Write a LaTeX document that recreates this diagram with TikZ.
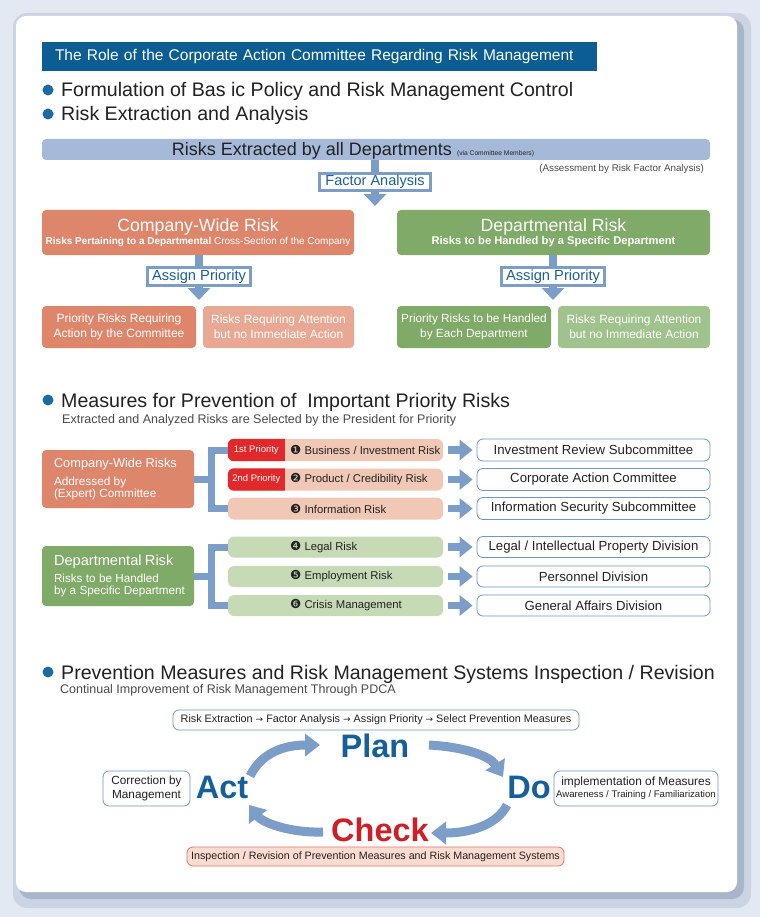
\documentclass[tikz,border=0pt]{standalone}
\usepackage{fontspec}
\setmainfont{Liberation Sans}
\newfontfamily\dejavu{DejaVu Sans}
\usetikzlibrary{arrows.meta}
\newcommand{\myfs}[2]{\fontsize{#1}{#2}\selectfont}
\definecolor{bgc}{HTML}{E2E9F3}
\definecolor{shcA}{HTML}{CBD4E3}
\definecolor{shcB}{HTML}{A9B5CA}
\definecolor{titleblue}{HTML}{0B5D92}
\definecolor{bulc}{HTML}{1B6AA5}
\definecolor{barc}{HTML}{A5B9D8}
\definecolor{arrc}{HTML}{7B9DC7}
\definecolor{txtblue}{HTML}{1D5F99}
\definecolor{salmon}{HTML}{DD866C}
\definecolor{salmonlt}{HTML}{E8A893}
\definecolor{green}{HTML}{80AA68}
\definecolor{greenlt}{HTML}{A0C28D}
\definecolor{palesal}{HTML}{F0C8B5}
\definecolor{palegrn}{HTML}{C6DAB6}
\definecolor{tagred}{HTML}{E1282A}
\definecolor{checkred}{HTML}{CF1E25}
\definecolor{pinkbox}{HTML}{FCDCD2}
\definecolor{pinkline}{HTML}{E0766A}
\definecolor{boxblue}{HTML}{6B98C9}
\definecolor{txtdark}{HTML}{222222}
\definecolor{txtgray}{HTML}{4A4A4A}
\definecolor{pdcablue}{HTML}{155F9A}
\begin{document}
\begin{tikzpicture}[x=1pt,y=-1pt,
  box/.style={rounded corners=4pt, inner sep=0pt, align=center, text=white},
  stem/.style={draw=arrc, line width=8pt},
  headarrow/.style={draw=arrc, line width=8pt, -{Triangle[width=22pt,length=12pt]}},
  sidearrow/.style={draw=arrc, line width=7.5pt, -{Triangle[width=20pt,length=13pt]}, shorten <=5pt, shorten >=4pt},
  cyc/.style={draw=arrc, line width=9pt, -{Triangle[width=22pt,length=15pt]}},
  prio/.style={draw=arrc, line width=3pt, fill=white, minimum width=103pt, minimum height=18pt, inner sep=0pt, text=txtblue, font=\myfs{14.7}{16}},
  brk/.style={draw=arrc, line width=7pt, line join=miter},
  row/.style={fill=#1, rounded corners=6pt, minimum width=215pt, minimum height=22pt, inner sep=0pt},
  rowtext/.style={anchor=west, inner sep=0pt, font=\myfs{11.3}{13}, text=txtdark},
  rb/.style={draw=boxblue, line width=0.8pt, rounded corners=6pt, fill=white, minimum width=233pt, minimum height=22pt, inner sep=0pt, font=\myfs{13.2}{15}, text=txtdark},
  tagtext/.style={inner sep=0pt, font=\myfs{9.5}{10}, text=white},
  head/.style={anchor=base west, inner sep=0pt, font=\myfs{19.6}{22}, text=txtdark},
  sub/.style={anchor=base west, inner sep=0pt, font=\myfs{12.5}{14}, text=txtgray},
  pdca/.style={inner sep=0pt, font=\myfs{32.5}{34}\bfseries, text=pdcablue},
  note/.style={draw=boxblue, line width=0.8pt, rounded corners=6pt, fill=white, inner sep=0pt, align=center, text=txtdark}
]
\useasboundingbox (0,0) rectangle (760,917);
\fill[bgc] (0,0) rectangle (760,917);
\fill[shcA, rounded corners=14pt] (13,13) rectangle (751,908);
\fill[shcB, rounded corners=12pt] (19,19) rectangle (744,899);
\fill[white, rounded corners=10pt] (16,16) rectangle (737,892);

% title
\node[fill=titleblue, minimum width=555pt, minimum height=29pt, inner xsep=13pt, text width=529pt, align=left, text=white, font=\myfs{15.5}{18}] (title) at (319.5,56.5) {The Role of the Corporate Action Committee Regarding Risk Management};

% headings
\fill[bulc] (48,90) circle (5.5pt);
\node[head] (h1) at (61,97) {Formulation of Bas ic Policy and Risk Management Control};
\fill[bulc] (48,114) circle (5.5pt);
\node[head] (h2) at (61,121) {Risk Extraction and Analysis};

% extraction bar
\node[rounded corners=4pt, fill=barc, minimum width=668pt, minimum height=21pt, inner sep=0pt] (rbar) at (376,149.5) {};
\node[anchor=base, inner sep=0pt, text=txtdark] (rbart) at (353,156) {{\myfs{18}{20}Risks Extracted by all Departments}\hspace{5pt}{\myfs{6.7}{8}(via Committee Members)}};
\node[anchor=base east, inner sep=0pt, font=\myfs{9.8}{11}, text=txtgray] (assess) at (704,172) {(Assessment by Risk Factor Analysis)};

\node[draw=arrc, line width=3pt, fill=white, minimum width=111pt, minimum height=17pt, inner sep=0pt, text=txtblue, font=\myfs{14.5}{16}] (fa) at (375,182) {Factor Analysis};
\coordinate (fatip) at (375,206);
\draw[stem] (rbar.south -| fa.north) -- (fa.north);
\draw[headarrow] (fa.south) -- (fatip);

% company-wide / departmental
\node[box, fill=salmon, minimum width=312pt, minimum height=45pt] (cw) at (198,232.5) {{\myfs{17.7}{20}Company-Wide Risk}\\[1pt]{\myfs{10}{12}\bfseries Risks Pertaining to a Departmental}{\myfs{10}{12} Cross-Section of the Company}};
\node[box, fill=green, minimum width=313pt, minimum height=45pt] (dr) at (553.5,232.5) {{\myfs{17.7}{20}Departmental Risk}\\[1pt]{\myfs{11.2}{12}\bfseries Risks to be Handled by a Specific Department}};

\node[prio] (apl) at (199,276.5) {Assign Priority};
\node[prio] (apr) at (553,276.5) {Assign Priority};
\coordinate (apltip) at (199,300);
\coordinate (aprtip) at (553,300);
\draw[stem] (cw.south -| apl.north) -- (apl.north);
\draw[headarrow] (apl.south) -- (apltip);
\draw[stem] (dr.south -| apr.north) -- (apr.north);
\draw[headarrow] (apr.south) -- (aprtip);

\node[box, fill=salmon, minimum width=154pt, minimum height=42pt, font=\myfs{12}{15}] (b1) at (119,327) {Priority Risks Requiring\\Action by the Committee};
\node[box, fill=salmonlt, minimum width=151pt, minimum height=42pt, font=\myfs{12}{15}] (b2) at (278.5,327) {Risks Requiring Attention\\but no Immediate Action};
\node[box, fill=green, minimum width=154pt, minimum height=42pt, font=\myfs{11.8}{15}] (b3) at (474,327) {Priority Risks to be Handled\\by Each Department};
\node[box, fill=greenlt, minimum width=152pt, minimum height=42pt, font=\myfs{12}{15}] (b4) at (634,327) {Risks Requiring Attention\\but no Immediate Action};

% section 2
\fill[bulc] (48,400) circle (5.5pt);
\node[head] (h3) at (61,407) {Measures for Prevention of \ Important Priority Risks};
\node[sub] (s3) at (62,423) {Extracted and Analyzed Risks are Selected by the President for Priority};

\node[box, fill=salmon, minimum width=152pt, minimum height=58pt, text width=128pt, align=left] (cwr) at (118,479) {{\myfs{12.8}{15}Company-Wide Risks}\\[3pt]{\myfs{11.8}{14.5}Addressed by\\(Expert) Committee}};

\node[row=palesal] (r1) at (335.5,450) {};
\node[row=palesal] (r2) at (335.5,479.5) {};
\node[row=palesal] (r3) at (335.5,508.5) {};
\fill[tagred] ([xshift=57pt]r1.north west) [rounded corners=6pt] -- (r1.north west) -- (r1.south west) [sharp corners] -- ([xshift=57pt]r1.south west) -- cycle;
\fill[tagred] ([xshift=57pt]r2.north west) [rounded corners=6pt] -- (r2.north west) -- (r2.south west) [sharp corners] -- ([xshift=57pt]r2.south west) -- cycle;
\node[tagtext] (t1) at ([xshift=28.5pt]r1.west) {1st Priority};
\node[tagtext] (t2) at ([xshift=28.5pt]r2.west) {2nd Priority};
\node[rowtext] (l1) at (290,450) {{\dejavu\myfs{12.5}{13}❶} Business / Investment Risk};
\node[rowtext] (l2) at (290,479.5) {{\dejavu\myfs{12.5}{13}❷} Product / Credibility Risk};
\node[rowtext] (l3) at (290,508.5) {{\dejavu\myfs{12.5}{13}❸} Information Risk};
\draw[brk] (r1.west) -- ++(-16,0) |- (r3.west);
\draw[brk] (cwr.east) -- ++(21,0);

\node[rb] (c1) at (593.5,450) {Investment Review Subcommittee};
\node[rb] (c2) at (593.5,479.5) {Corporate Action Committee};
\node[rb] (c3) at (593.5,508.5) {Information Security Subcommittee};
\draw[sidearrow] (r1) -- (c1);
\draw[sidearrow] (r2) -- (c2);
\draw[sidearrow] (r3) -- (c3);

\node[box, fill=green, minimum width=152pt, minimum height=60pt, text width=128pt, align=left] (drk) at (118,576) {{\myfs{14.6}{16}Departmental Risk}\\[2pt]{\myfs{11.7}{14.5}\mbox{Risks to be Handled}\\\mbox{by a Specific Department}}};
\node[row=palegrn, minimum height=21pt] (r4) at (335.5,547) {};
\node[row=palegrn, minimum height=21pt] (r5) at (335.5,576.5) {};
\node[row=palegrn, minimum height=21pt] (r6) at (335.5,605.5) {};
\node[rowtext] (l4) at (290,547) {{\dejavu\myfs{12.5}{13}❹} Legal Risk};
\node[rowtext] (l5) at (290,576.5) {{\dejavu\myfs{12.5}{13}❺} Employment Risk};
\node[rowtext] (l6) at (290,605.5) {{\dejavu\myfs{12.5}{13}❻} Crisis Management};
\draw[brk] (r4.west) -- ++(-16,0) |- (r6.west);
\draw[brk] (drk.east) -- ++(21,0);

\node[rb, minimum height=21pt] (c4) at (593.5,547) {Legal / Intellectual Property Division};
\node[rb, minimum height=21pt] (c5) at (593.5,576.5) {Personnel Division};
\node[rb, minimum height=21pt] (c6) at (593.5,605.5) {General Affairs Division};
\draw[sidearrow] (r4) -- (c4);
\draw[sidearrow] (r5) -- (c5);
\draw[sidearrow] (r6) -- (c6);

% section 3
\fill[bulc] (48,672) circle (5.5pt);
\node[head] (h4) at (61,679) {Prevention Measures and Risk Management Systems Inspection / Revision};
\node[sub] (s4) at (60,693) {Continual Improvement of Risk Management Through PDCA};

\node[note, minimum width=406pt, minimum height=20pt, font=\myfs{10.8}{12}] (pl) at (376,720) {Risk Extraction {\dejavu\myfs{9}{12}→} Factor Analysis {\dejavu\myfs{9}{12}→} Assign Priority {\dejavu\myfs{9}{12}→} Select Prevention Measures};

\node[pdca] (plan) at (375,746) {Plan};
\node[pdca] (act) at (222,787) {Act};
\node[pdca] (do) at (529,787) {Do};
\node[pdca, text=checkred] (check) at (380,830) {Check};

\coordinate (ap1) at (250,776);
\coordinate (ap2) at (320,745);
\coordinate (pd1) at (429,745);
\coordinate (pd2) at (503,777);
\coordinate (dc1) at (507,805);
\coordinate (dc2) at (431,833);
\coordinate (ca1) at (323,832);
\coordinate (ca2) at (249,805);
\draw[cyc] (ap1) .. controls (262,752) and (285,745) .. (ap2);
\draw[cyc] (pd1) .. controls (465,747) and (490,756) .. (pd2);
\draw[cyc] (dc1) .. controls (497,825) and (470,833) .. (dc2);
\draw[cyc] (ca1) .. controls (288,833) and (262,822) .. (ca2);

\node[note, minimum width=87pt, minimum height=35pt, font=\myfs{11.8}{14}] (corr) at (146.5,788.5) {Correction by\\Management};
\node[note, minimum width=164pt, minimum height=35pt] (impl) at (636,788.5) {{\myfs{11.9}{13}implementation of Measures}\\[0pt]{\myfs{9.6}{11}Awareness / Training / Familiarization}};
\node[draw=pinkline, line width=0.8pt, rounded corners=6pt, fill=pinkbox, minimum width=377pt, minimum height=19pt, inner sep=0pt, font=\myfs{10.7}{12}, text=txtdark] (insp) at (375.5,856.5) {Inspection / Revision of Prevention Measures and Risk Management Systems};
\end{tikzpicture}
\end{document}
